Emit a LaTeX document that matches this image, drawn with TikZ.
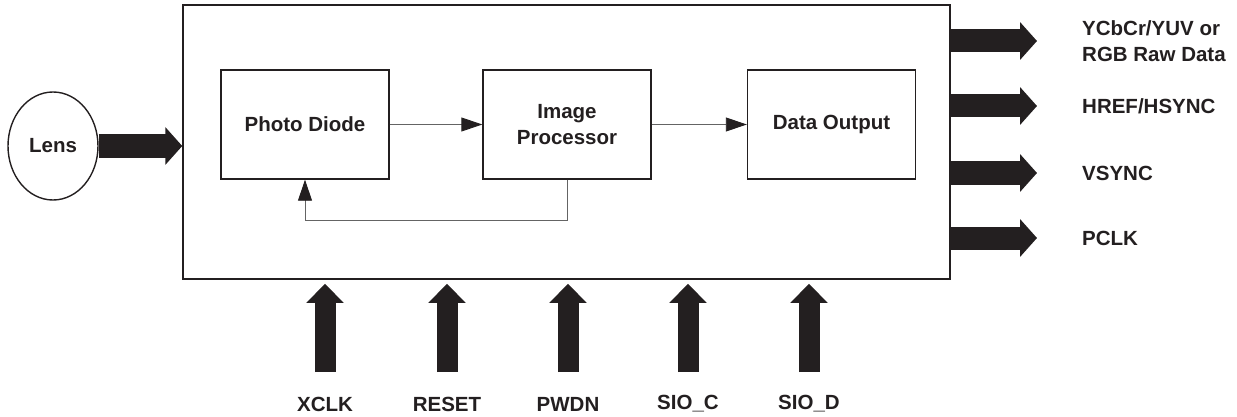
\documentclass[tikz,border=0pt]{standalone}
\usepackage{fontspec}
\setmainfont{Liberation Sans}
\usetikzlibrary{arrows.meta,shapes.geometric,calc}
\definecolor{ink}{RGB}{35,31,32}
\definecolor{wire}{RGB}{100,100,100}
\tikzset{
  txt/.style={font=\fontsize{20.5}{26}\selectfont\bfseries, text=ink},
  lbl/.style={txt, inner sep=0pt, align=left},
  block/.style={txt, draw=ink, line width=1.4pt, minimum width=168pt, minimum height=109pt,
    inner sep=0pt, align=center},
  thinarrow/.style={draw=wire, line width=0.9pt, -{Triangle[length=21pt,width=14pt,color=ink]}},
  fath/.style={draw=ink, line width=24pt, -{Triangle[length=17pt,width=37pt]}, ink},
  fatv/.style={draw=ink, line width=21pt, -{Triangle[length=19pt,width=36pt]}, ink},
}
\begin{document}
\begin{tikzpicture}[x=1pt,y=-1pt]
\useasboundingbox (0,0) rectangle (1237,417);

% camera chip outline
\node[draw=ink, line width=1.5pt, minimum width=767pt, minimum height=274pt, inner sep=0pt]
  (chip) at (566.5,142) {};

% internal blocks
\node[block] (pd) at (305,124.5) {Photo Diode};
\node[block] (ip) at (567,124.5) {Image\\Processor};
\node[block] (do) at (831.5,124.5) {Data Output};

\draw[thinarrow] (pd.east) -- (ip.west);
\draw[thinarrow] (ip.east) -- (do.west);
\draw[thinarrow] (ip.south) -- ++(0,41) -| (pd.south);

% lens input
\node[txt, draw=ink, line width=1.4pt, ellipse, minimum width=90pt, minimum height=108pt,
  inner sep=0pt] (lens) at (53,146) {Lens};
\draw[fath] (lens.east) -- (lens.east -| chip.west);

% output signals
\node[lbl, anchor=west] (o1) at (1082,41) {YCbCr/YUV or\\RGB Raw Data};
\node[lbl, anchor=west] (o2) at (1082,106) {HREF/HSYNC};
\node[lbl, anchor=west] (o3) at (1082,173) {VSYNC};
\node[lbl, anchor=west] (o4) at (1082,238) {PCLK};
\foreach \o in {o1,o2,o3,o4}{
  \draw[fath, line width=23pt] ($(chip.east |- \o.west)+(-1,0)$) -- ($(\o.west)+(-45,0)$);
}

% control inputs
\foreach \n/\x/\t in {xclk/325/XCLK, reset/447/RESET, pwdn/568/PWDN, sioc/688/SIO\_C, siod/809/SIO\_D}{
  \node[lbl, anchor=center] (\n) at (\x,404) {\t};
  \draw[fatv] ($(\n.center)+(0,-32)$) -- ($(\n.center |- chip.south)+(0,4)$);
}
\end{tikzpicture}
\end{document}
